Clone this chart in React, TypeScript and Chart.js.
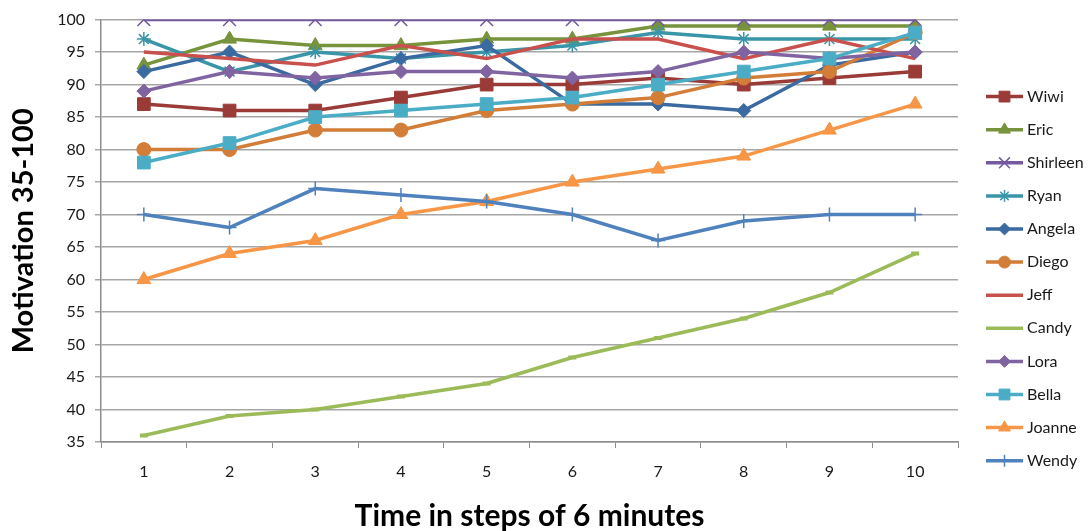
import React, { useEffect, useRef } from 'react';
import { Chart, registerables } from 'chart.js';
import { drawPoint } from 'chart.js/helpers';

Chart.register(...registerables);

const steps = ['1', '2', '3', '4', '5', '6', '7', '8', '9', '10'];

const wiwi = [87, 86, 86, 88, 90, 90, 91, 90, 91, 92];
const eric = [93, 97, 96, 96, 97, 97, 99, 99, 99, 99];
const shirleen = [100, 100, 100, 100, 100, 100, 100, 100, 100, 100];
const ryan = [97, 92, 95, 94, 95, 96, 98, 97, 97, 97];
const angela = [92, 95, 90, 94, 96, 87, 87, 86, 93, 95];
const diego = [80, 80, 83, 83, 86, 87, 88, 91, 92, 98];
const jeff = [95, 94, 93, 96, 94, 97, 97, 94, 97, 94];
const candy = [36, 39, 40, 42, 44, 48, 51, 54, 58, 64];
const lora = [89, 92, 91, 92, 92, 91, 92, 95, 94, 95];
const bella = [78, 81, 85, 86, 87, 88, 90, 92, 94, 98];
const joanne = [60, 64, 66, 70, 72, 75, 77, 79, 83, 87];
const wendy = [70, 68, 74, 73, 72, 70, 66, 69, 70, 70];

const names = ['Wiwi', 'Eric', 'Shirleen', 'Ryan', 'Angela', 'Diego', 'Jeff', 'Candy', 'Lora', 'Bella', 'Joanne', 'Wendy'];
const values = [wiwi, eric, shirleen, ryan, angela, diego, jeff, candy, lora, bella, joanne, wendy];
const colors = ['#9B3B38', '#77933C', '#7458A0', '#3A95A8', '#3B6AA0', '#D27D38', '#C8504D', '#9BBB59', '#8064A2', '#4BACC6', '#F79646', '#4F81BD'];
const styles = ['rect', 'triangle', 'crossRot', 'star', 'rectRot', 'circle', false, 'line', 'rectRot', 'rect', 'triangle', 'cross'];
const radii = [9, 8, 9, 7, 7, 7, 0, 4, 7, 9, 8, 7];
const borderW = [1, 1, 1.5, 1.5, 1, 1, 1, 4, 1, 1, 1, 1.5];

const yTicks = [35, 40, 45, 50, 55, 60, 65, 70, 75, 80, 85, 90, 95, 100];

const legendPlugin = {
  id: 'excelLegend',
  afterDraw(chart: any) {
    const ctx = chart.ctx;
    const area = chart.chartArea;
    const x0 = area.right + 28;
    const lineLen = 37;
    const top = area.top + 77;
    const gap = 33.1;
    chart.data.datasets.forEach((ds: any, i: number) => {
      const y = top + i * gap;
      ctx.save();
      ctx.strokeStyle = ds.borderColor;
      ctx.lineWidth = 3.5;
      ctx.beginPath();
      ctx.moveTo(x0, y);
      ctx.lineTo(x0 + lineLen, y);
      ctx.stroke();
      if (ds.pointStyle && ds.pointRadius > 0 && ds.pointStyle !== 'line') {
        ctx.fillStyle = ds.pointBackgroundColor;
        ctx.strokeStyle = ds.pointBorderColor;
        ctx.lineWidth = ds.pointBorderWidth;
        drawPoint(ctx, { pointStyle: ds.pointStyle, radius: ds.pointRadius * 0.85, rotation: 0, borderWidth: ds.pointBorderWidth } as any, x0 + lineLen / 2, y);
      }
      ctx.fillStyle = '#1a1a1a';
      ctx.font = '16px Lato';
      ctx.textBaseline = 'middle';
      ctx.textAlign = 'left';
      ctx.fillText(ds.label, x0 + lineLen + 4, y);
      ctx.restore();
    });
  },
};

export default function App() {
  const ref = useRef<HTMLCanvasElement>(null);
  useEffect(() => {
    if (!ref.current) return;
    const datasets = names.map((n, i) => ({
      label: n,
      data: values[i],
      borderColor: colors[i],
      backgroundColor: colors[i],
      pointBackgroundColor: colors[i],
      pointBorderColor: colors[i],
      pointStyle: styles[i] as any,
      pointRadius: radii[i],
      pointHoverRadius: radii[i],
      pointBorderWidth: borderW[i],
      borderWidth: 3.5,
      tension: 0,
      fill: false,
      order: names.length - i,
    }));
    const chart = new Chart(ref.current, {
      type: 'line',
      data: { labels: steps, datasets },
      plugins: [legendPlugin],
      options: {
        animation: false,
        responsive: true,
        maintainAspectRatio: false,
        layout: { padding: { left: 0, top: 19, right: 130, bottom: 0 } },
        plugins: { legend: { display: false }, tooltip: { enabled: false } },
        scales: {
          x: {
            offset: true,
            grid: { offset: true, drawOnChartArea: false, drawTicks: true, tickLength: 6, color: '#8C8C8C' },
            border: { color: '#8C8C8C', width: 1.5 },
            ticks: { color: '#1a1a1a', font: { family: 'Lato', size: 16 }, padding: 14, maxRotation: 0 },
            title: {
              display: true,
              text: 'Time in steps of 6 minutes',
              color: '#000',
              font: { family: 'Lato', size: 30, weight: 'bold', lineHeight: 1 },
              padding: { top: 0, bottom: 0 },
            },
            afterFit: (s: any) => { s.height = 89; },
          },
          y: {
            min: 35,
            max: 100,
            afterBuildTicks: (s: any) => { s.ticks = yTicks.map((v) => ({ value: v })); },
            grid: { color: '#A6A6A6', lineWidth: 1.5, tickLength: 6 },
            border: { color: '#8C8C8C', width: 1.5 },
            ticks: { color: '#1a1a1a', font: { family: 'Lato', size: 16 }, padding: 10 },
            title: {
              display: true,
              text: 'Motivation 35-100',
              color: '#000',
              font: { family: 'Lato', size: 29, weight: 'bold', lineHeight: 1 },
              padding: { top: 9, bottom: 0 },
            },
            afterFit: (s: any) => { s.width = 101; },
          },
        },
      },
    });
    return () => chart.destroy();
  }, []);
  return (
    <div style={{ position: 'fixed', left: 0, top: 0, width: 1088, height: 531, background: '#fff' }}>
      <canvas ref={ref} />
    </div>
  );
}
